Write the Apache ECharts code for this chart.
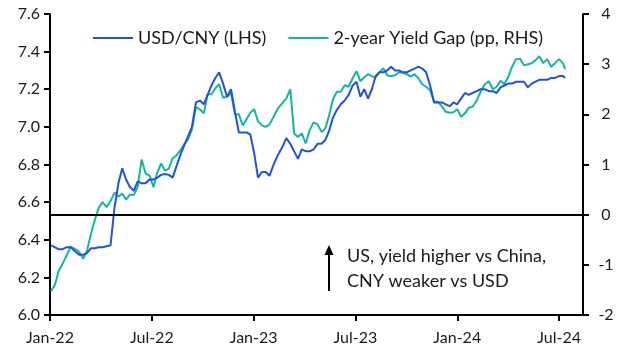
<!DOCTYPE html>
<html>
<head>
<meta charset="utf-8">
<script src="https://cdn.jsdelivr.net/npm/echarts@6/dist/echarts.min.js"></script>
<style>html,body{margin:0;padding:0;background:#fff}#c{width:628px;height:362px}</style>
</head>
<body>
<div id="c"></div>
<script>
// Weekly observation dates
const dates = [
"2022-01-03","2022-01-10","2022-01-17","2022-01-24","2022-01-31","2022-02-07","2022-02-14","2022-02-21","2022-02-28","2022-03-07",
"2022-03-14","2022-03-21","2022-03-28","2022-04-04","2022-04-11","2022-04-18","2022-04-25","2022-05-02","2022-05-09","2022-05-16",
"2022-05-23","2022-05-30","2022-06-06","2022-06-13","2022-06-20","2022-06-27","2022-07-04","2022-07-11","2022-07-18","2022-07-25",
"2022-08-01","2022-08-08","2022-08-15","2022-08-22","2022-08-29","2022-09-05","2022-09-12","2022-09-19","2022-09-26","2022-10-03",
"2022-10-10","2022-10-17","2022-10-24","2022-10-31","2022-11-07","2022-11-14","2022-11-21","2022-11-28","2022-12-05","2022-12-12",
"2022-12-19","2022-12-26","2023-01-02","2023-01-09","2023-01-16","2023-01-23","2023-01-30","2023-02-06","2023-02-13","2023-02-20",
"2023-02-27","2023-03-06","2023-03-13","2023-03-20","2023-03-27","2023-04-03","2023-04-10","2023-04-17","2023-04-24","2023-05-01",
"2023-05-08","2023-05-15","2023-05-22","2023-05-29","2023-06-05","2023-06-12","2023-06-19","2023-06-26","2023-07-03","2023-07-10",
"2023-07-17","2023-07-24","2023-07-31","2023-08-07","2023-08-14","2023-08-21","2023-08-28","2023-09-04","2023-09-11","2023-09-18",
"2023-09-25","2023-10-02","2023-10-09","2023-10-16","2023-10-23","2023-10-30","2023-11-06","2023-11-13","2023-11-20","2023-11-27",
"2023-12-04","2023-12-11","2023-12-18","2023-12-25","2024-01-01","2024-01-08","2024-01-15","2024-01-22","2024-01-29","2024-02-05",
"2024-02-12","2024-02-19","2024-02-26","2024-03-04","2024-03-11","2024-03-18","2024-03-25","2024-04-01","2024-04-08","2024-04-15",
"2024-04-22","2024-04-29","2024-05-06","2024-05-13","2024-05-20","2024-05-27","2024-06-03","2024-06-10","2024-06-17","2024-06-24",
"2024-07-01","2024-07-08","2024-07-12"
];
// USD/CNY (LHS)
const usdCny = [
6.37,6.36,6.35,6.35,6.36,6.36,6.34,6.32,6.32,6.33,
6.355,6.355,6.36,6.36,6.365,6.37,6.57,6.70,6.78,6.72,
6.68,6.66,6.71,6.70,6.70,6.72,6.72,6.73,6.745,6.75,
6.745,6.73,6.79,6.85,6.90,6.95,7.00,7.13,7.14,7.12,
7.17,7.22,7.26,7.29,7.23,7.16,7.20,7.08,6.97,6.97,
6.97,6.96,6.86,6.73,6.76,6.76,6.74,6.80,6.85,6.89,
6.94,6.91,6.87,6.83,6.88,6.87,6.87,6.88,6.91,6.91,
6.93,6.98,7.05,7.09,7.12,7.14,7.17,7.22,7.24,7.16,
7.20,7.15,7.20,7.27,7.29,7.29,7.30,7.32,7.30,7.30,
7.29,7.29,7.30,7.31,7.32,7.31,7.29,7.22,7.13,7.13,
7.13,7.12,7.11,7.13,7.12,7.15,7.18,7.17,7.18,7.19,
7.20,7.20,7.19,7.19,7.18,7.21,7.22,7.23,7.23,7.24,
7.24,7.24,7.21,7.23,7.24,7.25,7.25,7.25,7.26,7.26,
7.27,7.27,7.26
];
// 2-year yield gap, pp (RHS)
const yieldGap = [
-1.52,-1.40,-1.12,-0.98,-0.82,-0.64,-0.68,-0.74,-0.88,-0.70,
-0.38,-0.10,0.14,0.25,0.15,0.27,0.44,0.36,0.42,0.30,
0.40,0.39,0.55,1.10,0.82,0.78,0.55,0.84,1.02,0.88,
0.92,1.12,1.18,1.28,1.40,1.50,1.70,2.15,2.10,2.02,
2.40,2.40,2.52,2.60,2.33,2.35,2.42,2.00,2.00,1.78,
1.90,2.03,2.10,1.86,1.78,1.75,1.80,1.95,2.12,2.22,
2.32,2.50,1.62,1.55,1.62,1.42,1.68,1.84,1.80,1.65,
1.72,1.98,2.30,2.45,2.45,2.58,2.55,2.72,2.86,2.66,
2.74,2.80,2.76,2.74,2.84,2.92,2.78,2.76,2.78,2.84,
2.83,2.80,2.75,2.80,2.72,2.60,2.55,2.48,2.25,2.25,
2.16,2.05,2.03,2.04,2.10,1.95,2.02,2.13,2.15,2.27,
2.45,2.60,2.66,2.50,2.55,2.67,2.60,2.74,2.95,3.10,
3.11,2.98,3.00,3.02,3.08,3.16,3.02,3.10,2.95,3.02,
3.10,3.02,2.90
];
const xTickLabels = ["Jan-22","Jul-22","Jan-23","Jul-23","Jan-24","Jul-24"];
const xTickMonths = [0,6,12,18,24,30];
const seriesNames = ["USD/CNY (LHS)","2-year Yield Gap (pp, RHS)"];

function monthIndex(s){
  const [y,m,d] = s.split('-').map(Number);
  const dim = new Date(y, m, 0).getDate();
  return (y-2022)*12 + (m-1) + (d-1)/dim;
}
const blueData = dates.map((d,i)=>[monthIndex(d), usdCny[i]]);
const tealData = dates.map((d,i)=>[monthIndex(d), yieldGap[i]]);

const FONT = 'Lato';
const BLUE = '#2153d6';
const TEAL = '#18b4a2';
const AX = {lineStyle:{color:'#000',width:2}};

const chart = echarts.init(document.getElementById('c'), null, {renderer:'canvas'});
chart.setOption({
  animation:false,
  textStyle:{fontFamily:FONT},
  grid:{left:50,right:45,top:14,bottom:47,containLabel:false},
  legend:{
    left:88, top:24,
    icon:'rect', itemWidth:40, itemHeight:2, itemGap:22,
    textStyle:{fontFamily:FONT,fontSize:18,color:'#1a1a1a'},
    data:seriesNames
  },
  xAxis:{
    type:'value', min:0, max:31.41, interval:6,
    axisLine:{show:true,onZero:false,...AX},
    axisTick:{show:true,length:6,lineStyle:{color:'#000',width:2},customValues:xTickMonths},
    splitLine:{show:false},
    axisLabel:{customValues:xTickMonths,fontFamily:FONT,fontSize:16,color:'#1a1a1a',margin:15,
      formatter:v=>{const i=xTickMonths.indexOf(Math.round(v));return i>=0?xTickLabels[i]:'';}}
  },
  yAxis:[
    {type:'value',min:6,max:7.6,interval:0.2,position:'left',
     axisLine:{show:true,...AX},
     axisTick:{show:true,length:6,lineStyle:{color:'#000',width:2}},
     splitLine:{show:false},
     axisLabel:{fontFamily:FONT,fontSize:16,color:'#1a1a1a',margin:10,formatter:v=>v.toFixed(1)}},
    {type:'value',min:-2,max:4,interval:1,position:'right',
     axisLine:{show:true,...AX},
     axisTick:{show:true,length:6,lineStyle:{color:'#000',width:2}},
     splitLine:{show:false},
     axisLabel:{fontFamily:FONT,fontSize:16,color:'#1a1a1a',margin:23,align:'center'}}
  ],
  series:[
    {name:seriesNames[0],type:'line',yAxisIndex:0,data:blueData,showSymbol:false,
     lineStyle:{color:BLUE,width:2},itemStyle:{color:BLUE},z:3},
    {name:seriesNames[1],type:'line',yAxisIndex:1,data:tealData,showSymbol:false,
     lineStyle:{color:TEAL,width:2},itemStyle:{color:TEAL},z:2,
     markLine:{silent:true,symbol:['none','none'],label:{show:false},
       lineStyle:{color:'#000',width:2,type:'solid'},data:[{yAxis:0}]}}
  ],
  graphic:[
    {type:'line',shape:{x1:329,y1:291,x2:329,y2:253},style:{stroke:'#000',lineWidth:2}},
    {type:'polygon',shape:{points:[[329,245],[324.5,255],[333.5,255]]},style:{fill:'#000'}},
    {type:'text',left:347,top:244,style:{text:'US, yield higher vs China,\nCNY weaker vs USD',
      fontFamily:FONT,fontSize:18,lineHeight:25,fill:'#1a1a1a'}}
  ]
});
</script>
</body>
</html>
